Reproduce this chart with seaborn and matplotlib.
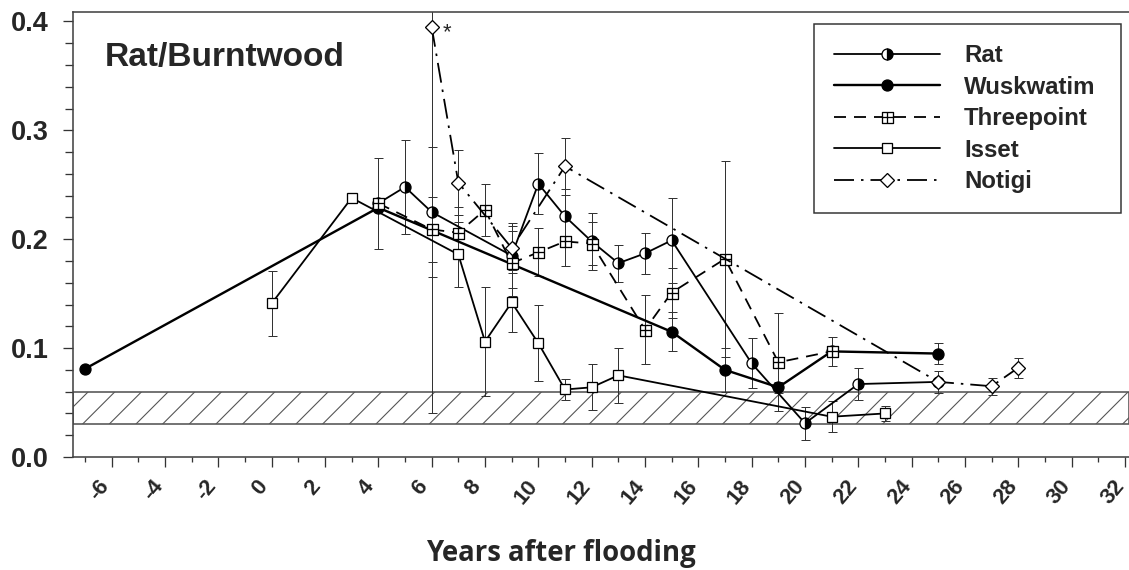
import numpy as np
import matplotlib
matplotlib.use("Agg")
import matplotlib.pyplot as plt
import matplotlib.transforms as mtransforms
from matplotlib.path import Path
from matplotlib.ticker import MultipleLocator, FixedLocator, FixedFormatter
import seaborn as sns

# ---------------- data ----------------
rat_x = [4, 5, 6, 9, 10, 11, 12, 13, 14, 15, 18, 20, 22, 25]
rat_y = [0.233, 0.248, 0.225, 0.185, 0.251, 0.221, 0.198, 0.178, 0.187, 0.199, 0.086, 0.031, 0.067, 0.069]
rat_err = [0, 0.043, 0.06, 0.03, 0.028, 0.025, 0.026, 0.017, 0.019, 0.039, 0.023, 0.015, 0.015, 0]

wusk_x = [-7, 4, 15, 17, 19, 21, 25]
wusk_y = [0.081, 0.229, 0.115, 0.080, 0.064, 0.097, 0.095]
wusk_err = [0, 0, 0.018, 0.02, 0.005, 0, 0.01]

three_x = [4, 6, 7, 8, 9, 10, 11, 12, 14, 15, 17, 19, 21]
three_y = [0.233, 0.209, 0.206, 0.227, 0.178, 0.188, 0.198, 0.196, 0.117, 0.151, 0.182, 0.087, 0.097]
three_err = [0.042, 0.03, 0.024, 0.024, 0.03, 0.022, 0.023, 0.02, 0.032, 0.023, 0.09, 0.045, 0.013]

isset_x = [0, 3, 7, 8, 9, 10, 11, 12, 13, 21, 23]
isset_y = [0.141, 0.238, 0.186, 0.106, 0.142, 0.1045, 0.062, 0.064, 0.075, 0.037, 0.040]
isset_err = [0.03, 0, 0.03, 0.05, 0.027, 0.035, 0.01, 0.021, 0.025, 0.014, 0.007]

notigi_x = [6, 7, 9, 11, 25, 27, 28]
notigi_y = [0.395, 0.252, 0.192, 0.267, 0.069, 0.065, 0.082]
notigi_err = [0.355, 0.03, 0.02, 0.026, 0.01, 0.008, 0.009]

band_low, band_high = 0.03, 0.06

xtick_values = [-6, -4, -2, 0, 2, 4, 6, 8, 10, 12, 14, 16, 18, 20, 22, 24, 26, 28, 30, 32]
xtick_labels = ["-6", "-4", "-2", "0", "2", "4", "6", "8", "10", "12", "14", "16",
                "18", "20", "22", "24", "26", "28", "30", "32"]
ytick_values = [0.0, 0.1, 0.2, 0.3, 0.4]
ytick_labels = ["0.0", "0.1", "0.2", "0.3", "0.4"]

series_names = ["Rat", "Wuskwatim", "Threepoint", "Isset", "Notigi"]
panel_title = "Rat/Burntwood"
x_title = "Years after flooding"

# ---------------- styling ----------------
DPI = 160
PT = 72.0 / DPI   # points per output pixel

sns.set_theme(style="ticks")
plt.rcParams["font.family"] = ["Liberation Sans", "DejaVu Sans"]
plt.rcParams["axes.unicode_minus"] = False
plt.rcParams["lines.scale_dashes"] = False
plt.rcParams["hatch.linewidth"] = 1.1 * PT
plt.rcParams["hatch.color"] = "#555555"

# square-with-cross marker for Threepoint
box_plus = Path(
    [(-1, -1), (1, -1), (1, 1), (-1, 1), (-1, -1), (-1, 0), (1, 0), (0, -1), (0, 1)],
    [Path.MOVETO, Path.LINETO, Path.LINETO, Path.LINETO, Path.CLOSEPOLY,
     Path.MOVETO, Path.LINETO, Path.MOVETO, Path.LINETO],
)

fig = plt.figure(figsize=(1129 / DPI, 570 / DPI), dpi=DPI)
fig.patch.set_facecolor("white")
ax = fig.add_axes([73 / 1129, 113 / 570, 1056 / 1129, 445.3 / 570])
ax.set_facecolor("white")

# reference band
ax.axhspan(band_low, band_high, facecolor="white", edgecolor="#555555",
           hatch="//", linewidth=1.6 * PT, zorder=1)

series = [
    (series_names[0], rat_x, rat_y, rat_err,
     dict(marker="o", fillstyle="right", markerfacecolor="black",
          markerfacecoloralt="white", markersize=11 * PT, linestyle="-",
          linewidth=1.8 * PT), 3.1),
    (series_names[1], wusk_x, wusk_y, wusk_err,
     dict(marker="o", markerfacecolor="black", markersize=11 * PT,
          linestyle="-", linewidth=2.4 * PT), 3.0),
    (series_names[2], three_x, three_y, three_err,
     dict(marker=box_plus, markerfacecolor="white", markersize=11 * PT,
          dashes=(12 * PT, 8 * PT), linewidth=1.8 * PT), 3.3),
    (series_names[3], isset_x, isset_y, isset_err,
     dict(marker="s", markerfacecolor="white", markersize=10.5 * PT,
          linestyle="-", linewidth=1.8 * PT), 3.2),
    (series_names[4], notigi_x, notigi_y, notigi_err,
     dict(marker="D", markerfacecolor="white", markersize=10 * PT,
          dashes=(20 * PT, 7 * PT, 2.5 * PT, 7 * PT), linewidth=1.8 * PT), 3.4),
]

handles = []
for name, xs, ys, errs, kw, z in series:
    e = np.asarray(errs, dtype=float)
    m = e > 0
    ax.errorbar(np.asarray(xs)[m], np.asarray(ys)[m], yerr=e[m], fmt="none",
                ecolor="#333333", elinewidth=1.0 * PT, capsize=4.5 * PT,
                capthick=1.0 * PT, zorder=2)
    sns.lineplot(x=xs, y=ys, ax=ax, color="black", errorbar=None, sort=True,
                 markeredgecolor="black", markeredgewidth=1.3 * PT,
                 label=name, legend=False, zorder=z, **kw)
    handles.append(ax.lines[-1])

# axes limits & ticks
ax.set_xlim(-7.45, 32.15)
ax.set_ylim(0, 0.409)
ax.xaxis.set_major_locator(FixedLocator(xtick_values))
ax.xaxis.set_major_formatter(FixedFormatter(xtick_labels))
ax.xaxis.set_minor_locator(MultipleLocator(1))
ax.yaxis.set_major_locator(FixedLocator(ytick_values))
ax.yaxis.set_major_formatter(FixedFormatter(ytick_labels))
ax.yaxis.set_minor_locator(MultipleLocator(0.02))

ax.tick_params(axis="both", which="both", direction="out", color="#333333",
               width=1.3 * PT)
ax.tick_params(axis="x", which="major", length=10 * PT, pad=9 * PT)
ax.tick_params(axis="x", which="minor", length=5 * PT)
ax.tick_params(axis="y", which="major", length=10 * PT, pad=14 * PT)
ax.tick_params(axis="y", which="minor", length=8 * PT)
for lab in ax.get_yticklabels():
    lab.set_fontsize(27 * PT)
    lab.set_fontweight("bold")
shift = mtransforms.ScaledTranslation(-12 / DPI, 0, fig.dpi_scale_trans)
for lab in ax.get_xticklabels():
    lab.set_fontsize(22 * PT)
    lab.set_fontweight("bold")
    lab.set_rotation(50)
    lab.set_ha("center")
    lab.set_va("top")
    lab.set_transform(lab.get_transform() + shift)

for side in ["left", "top", "bottom"]:
    ax.spines[side].set_color("#444444")
    ax.spines[side].set_linewidth(1.6 * PT)
ax.spines["right"].set_visible(False)
ax.set_xlabel("")
ax.set_ylabel("")

# panel title and asterisk
ax.text(0.0303, 0.898, panel_title, transform=ax.transAxes, fontsize=33.5 * PT,
        fontweight="bold", ha="left", va="center")
ax.annotate("*", xy=(notigi_x[0], notigi_y[0]), xytext=(11 * PT, -6 * PT),
            textcoords="offset points", fontsize=22 * PT, ha="left", va="center")

# legend
leg = ax.legend(handles=handles, labels=series_names, loc="upper left",
                bbox_to_anchor=(0.7017, 0.4, 0.2907, 0.5724), mode="expand",
                borderaxespad=0,
                frameon=True, fancybox=False, framealpha=1, edgecolor="#333333",
                prop={"weight": "bold", "size": 24 * PT},
                handlelength=4.4, handletextpad=1.0, labelspacing=0.35,
                borderpad=0.85, numpoints=1)
leg.get_frame().set_linewidth(1.5 * PT)

fig.text(561 / 1129, 17 / 570, x_title, ha="center", va="center",
         fontsize=27.5 * PT, fontweight="bold", family=["Open Sans", "DejaVu Sans"])

fig.savefig("out.png", dpi=DPI, facecolor="white")
